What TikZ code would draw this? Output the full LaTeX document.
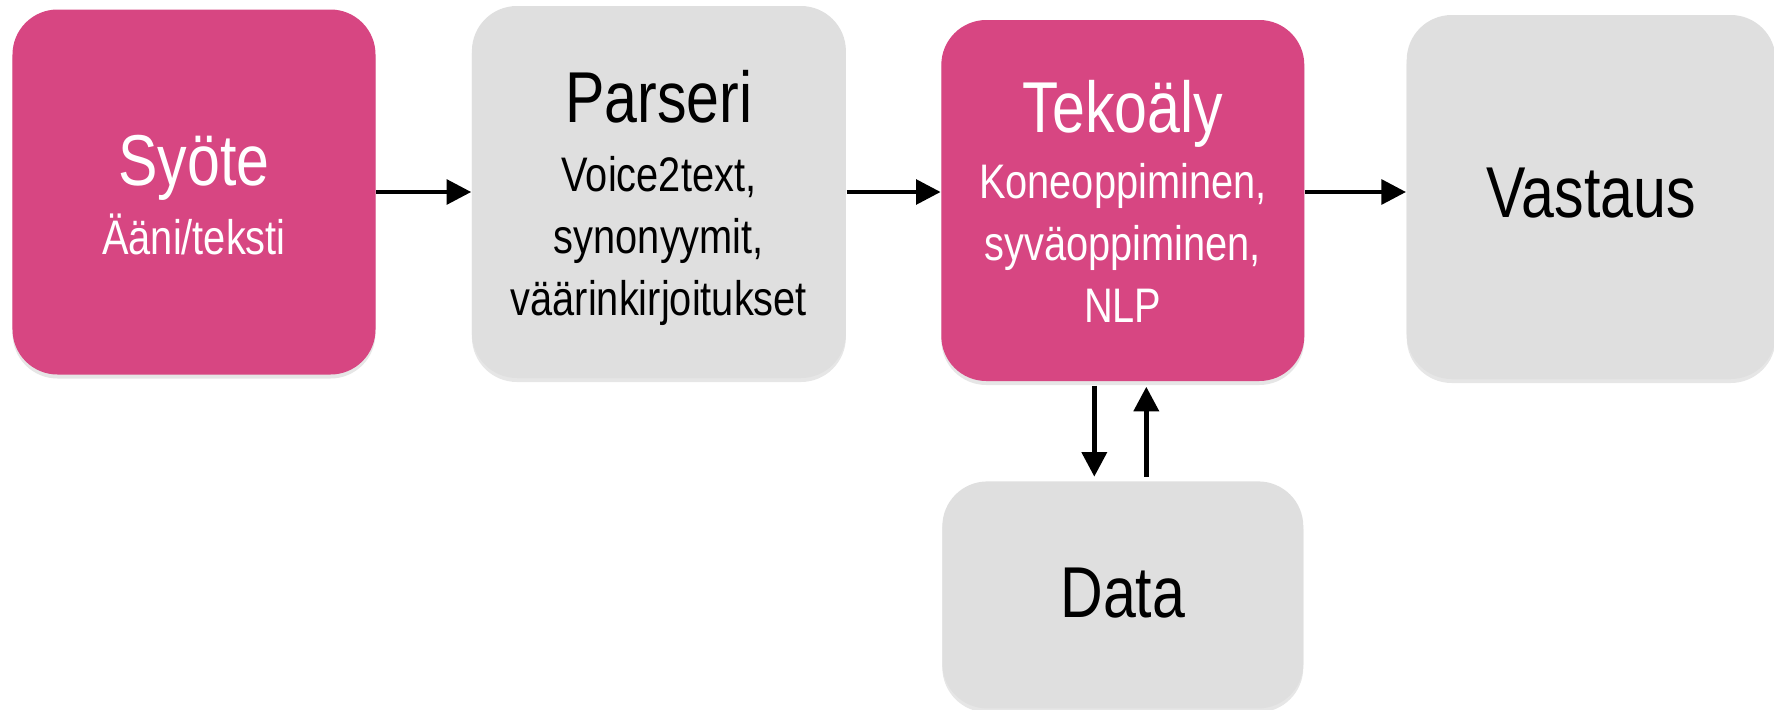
\documentclass[tikz,border=0pt]{standalone}
\usepackage{fontspec}
\setmainfont{Liberation Sans}[FakeStretch=0.82]
\usepackage{xcolor}
\usepackage{tikz}
\usetikzlibrary{arrows.meta,positioning,shadows}
\definecolor{roosa}{HTML}{D74682}
\definecolor{vaalea}{HTML}{DFDFDF}

\begin{document}
\begin{tikzpicture}[
    box/.style={rounded corners=.45cm, inner sep=0pt,
      drop shadow={shadow xshift=0pt, shadow yshift=-.04cm, opacity=.2}},
    pinkbox/.style={box, fill=roosa},
    greybox/.style={box, fill=vaalea},
    title/.style={anchor=base, font=\fontsize{20.5}{24}\selectfont},
    subtitle/.style={anchor=base, align=center, font=\fontsize{13.8}{17.6}\selectfont},
    arrow/.style={-{Triangle[length=7pt,width=7pt]}, line width=1.2pt}
  ]
  \useasboundingbox (0,0) rectangle (17.74,7.09);

  % laatikot
  \node (syote)[pinkbox, minimum width=3.63cm, minimum height=3.65cm] at (1.94,5.17) {};
  \node (parseri)[greybox, right=.95cm of syote, minimum width=3.74cm, minimum height=3.72cm] {};
  \node (tekoaly)[pinkbox, right=.94cm of parseri, yshift=-.085cm, minimum width=3.63cm, minimum height=3.61cm] {};
  \node (vastaus)[greybox, right=1.01cm of tekoaly, yshift=.035cm, minimum width=3.69cm, minimum height=3.64cm] {};
  \node (data)[greybox, below=.99cm of tekoaly, minimum width=3.61cm, minimum height=2.27cm] {};

  % tekstit (base = viimeisen rivin perusviiva)
  \node (syoteT)[title, white] at ([yshift=-1.765cm]syote.north) {Syöte};
  \node (syoteS)[subtitle, white] at ([yshift=-2.455cm]syote.north) {Ääni/teksti};
  \node (parseriT)[title] at ([yshift=-1.17cm]parseri.north) {Parseri};
  \node (parseriS)[subtitle] at ([yshift=-3.10cm]parseri.north) {Voice2text,\\synonyymit,\\väärinkirjoitukset};
  \node (tekoalyT)[title, white] at ([yshift=-1.13cm]tekoaly.north) {Tekoäly};
  \node (tekoalyS)[subtitle, white] at ([yshift=-3.03cm]tekoaly.north) {Koneoppiminen,\\syväoppiminen,\\NLP};
  \node (vastausT)[title] at ([yshift=-2.03cm]vastaus.north) {Vastaus};
  \node (dataT)[title] at ([yshift=-1.37cm]data.north) {Data};

  % nuolet
  \draw[arrow] (syote.east) -- (syote.east -| parseri.west);
  \draw[arrow] (parseri.east) -- (parseri.east -| tekoaly.west);
  \draw[arrow] (tekoaly.east |- parseri.east) -- (vastaus.west |- parseri.east);
  \draw[arrow, line width=1.4pt, shorten <=.04cm, shorten >=.04cm] ([xshift=-.285cm]tekoaly.south) -- ([xshift=-.285cm]data.north);
  \draw[arrow, line width=1.4pt, shorten <=.04cm, shorten >=.05cm] ([xshift=.235cm]data.north) -- ([xshift=.235cm]tekoaly.south);
\end{tikzpicture}
\end{document}
